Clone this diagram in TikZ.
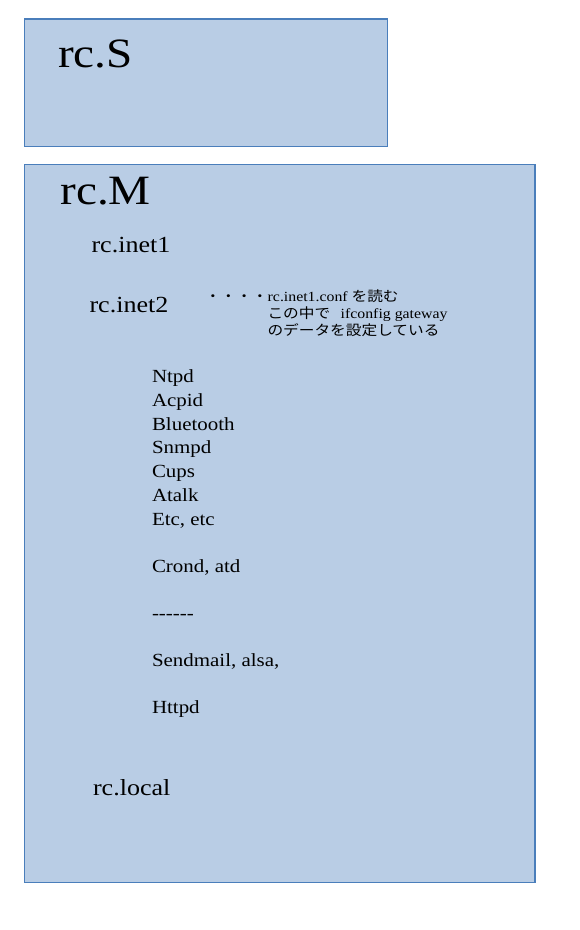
\documentclass[tikz,border=0pt]{standalone}
\usepackage{fontspec}
\setmainfont{Liberation Serif}[FakeStretch=1.13]
\newfontfamily\cjk{Noto Sans CJK JP}[FakeStretch=1.12]
\definecolor{boxfill}{HTML}{B9CDE5}
\definecolor{boxline}{HTML}{4A7EBB}
\begin{document}
\begin{tikzpicture}[x=0.75pt,y=-0.75pt,
  panel/.style={draw=boxline,fill=boxfill,line width=1.1pt},
  lbl/.style={anchor=base west,inner sep=0pt,outer sep=0pt},
  big/.style={lbl,font=\fontsize{31.3pt}{36pt}\selectfont},
  mid/.style={lbl,font=\fontsize{17.3pt}{20pt}\selectfont},
  small/.style={lbl,font=\fontsize{13.9pt}{17.7pt}\selectfont},
  note/.style={lbl,font=\fontsize{10.5pt}{12.9pt}\selectfont}]
\useasboundingbox (0,0) rectangle (580,930);
\fill[white] (0,0) rectangle (580,930);
\draw[panel] (24.5,19) rectangle (387.7,146.7);
\draw[panel] (24.5,164.3) rectangle (535,882.7);
\node[big] (rcS) at (58,67.3) {rc.S};
\node[big] (rcM) at (60.5,205) {rc.M};
\node[mid] (inet1) at (91.5,252.3) {rc.inet1};
\node[mid] (inet2) at (89.5,312.3) {rc.inet2};
\node[note] (n1) at (205,301) {{\cjk ・・・・}rc.inet1.conf {\cjk を読む}};
\node[note] (n2) at (267.5,318.5) {{\cjk この中で}\hspace{0.75em}ifconfig gateway};
\node[note] (n3) at (267.5,335.5) {{\cjk のデータを設定している}};
\node[small] (l1) at (152,382.7) {Ntpd};
\node[small] (l2) at (152,406.4) {Acpid};
\node[small] (l3) at (152,430.1) {Bluetooth};
\node[small] (l4) at (152,453.8) {Snmpd};
\node[small] (l5) at (152,477.5) {Cups};
\node[small] (l6) at (152,501.2) {Atalk};
\node[small] (l7) at (152,525) {Etc, etc};
\node[small] (l8) at (152,572.5) {Crond, atd};
\node[small] (l9) at (152,619.5) {-{}-{}-{}-{}-{}-};
\node[small] (l10) at (152,666.7) {Sendmail, alsa,};
\node[small] (l11) at (152,713.3) {Httpd};
\node[mid] (local) at (93,795) {rc.local};
\end{tikzpicture}
\end{document}
